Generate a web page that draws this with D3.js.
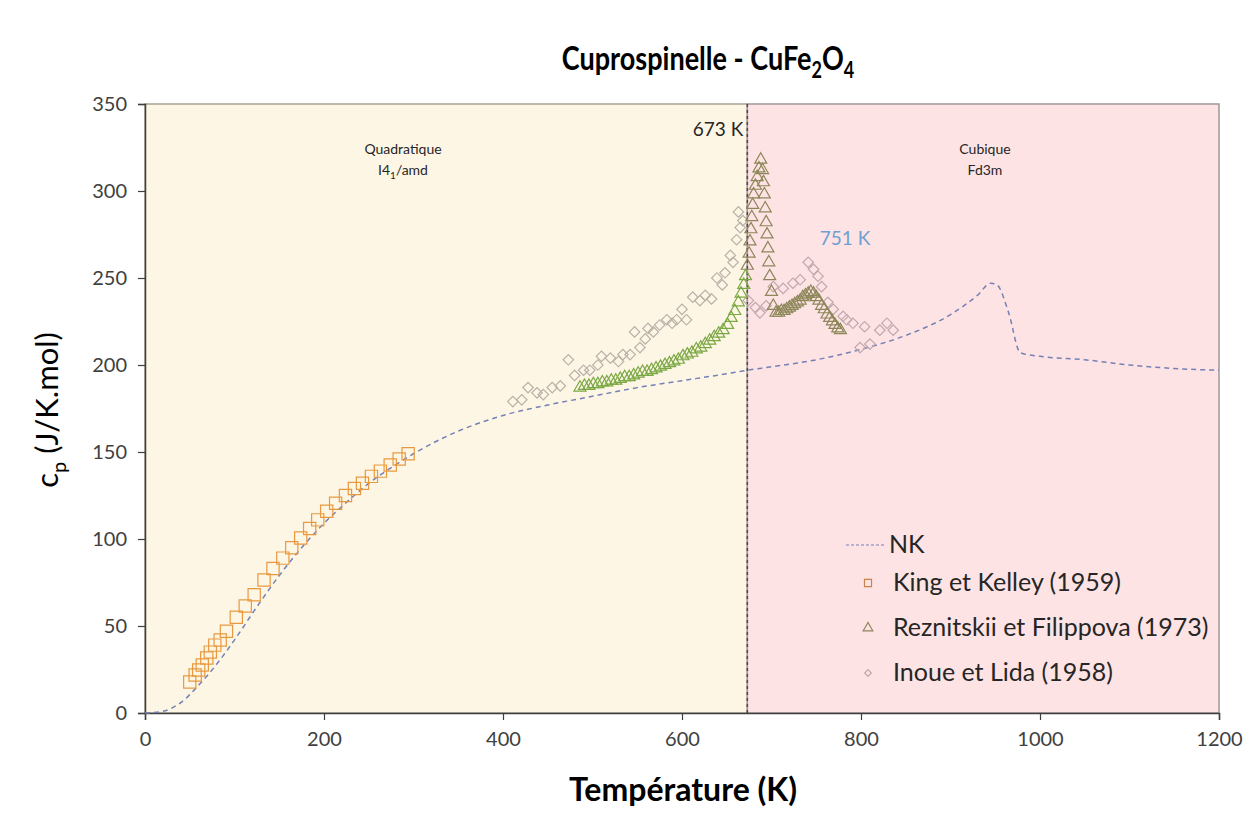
<!DOCTYPE html>
<html>
<head>
<meta charset="utf-8">
<script src="https://cdnjs.cloudflare.com/ajax/libs/d3/7.8.5/d3.min.js"></script>
<style>
  body { margin: 0; background: #fff; }
  text { font-family: Lato, "Open Sans", sans-serif; }
</style>
</head>
<body>
<div id="chart"></div>
<script>
var width = 1247,
    height = 821;
var margin = {top: 104, right: 28, bottom: 108, left: 145};

// NK model curve
var nkT  = [0, 20, 40, 60, 80, 100, 125, 150, 175, 200, 225, 250, 275, 300, 350, 400, 450, 500, 550, 600, 650, 673, 700, 750, 800, 850, 900, 930, 945, 952, 965, 978, 1000, 1050, 1100, 1150, 1200];
var nkCp = [0, 1, 6, 16, 28, 42, 61, 79, 95, 109, 121, 132, 141, 149, 162, 171, 177, 182, 187, 191, 195, 197, 199, 203, 209, 217, 229, 240, 247, 246, 230, 207, 205, 203, 200, 198, 197];

// King et Kelley (1959)
var kkT  = [50, 56, 60, 64, 69, 73, 78, 84, 91, 102, 112, 122, 133, 143, 154, 164, 174, 184, 193, 203, 213, 224, 234, 243, 253, 263, 274, 284, 294];
var kkCp = [17.8, 21.8, 24.7, 27.6, 31.6, 35, 39, 42, 47, 55, 61.5, 68, 76.4, 83, 89, 95, 100.6, 106, 111, 116, 120.6, 125, 129, 132, 136, 139, 142.5, 146, 149];

// Reznitskii et Filippova (1973)
var rfT  = [486, 491, 496, 501, 506, 511, 516, 521, 526, 531, 536, 541, 546, 551, 556, 561, 566, 571, 576, 581, 586, 591, 596, 601, 606, 611, 616, 621, 626, 631, 636, 641, 646, 651, 655, 659, 663, 666, 669, 671, 673, 675, 676, 677, 678, 679, 680, 682, 684, 686, 688, 690, 691, 692, 693, 694, 695, 696, 697, 698, 700, 702, 705, 708, 711, 714, 717, 720, 723, 726, 729, 732, 735, 738, 741, 744, 747, 750, 753, 756, 759, 762, 765, 768, 771, 774, 777];
var rfCp = [187, 188, 188, 189, 189, 190, 190, 191, 191, 192, 193, 193, 194, 195, 196, 196, 197, 198, 199, 200, 201, 202, 203, 205, 206, 207, 209, 210, 212, 214, 216, 218, 220, 223, 227, 231, 236, 241, 246, 251, 257, 264, 271, 278, 285, 292, 298, 303, 308, 313, 318, 312, 305, 298, 290, 282, 275, 267, 259, 251, 242, 234, 230, 230, 231, 231, 232, 233, 234, 235, 236, 237, 239, 240, 241, 242, 241, 239, 237, 234, 232, 229, 227, 225, 223, 221, 220];

// Inoue et Lida (1958)
var ilT  = [411, 421, 428, 438, 445, 455, 464, 473, 480, 490, 497, 506, 510, 520, 529, 534, 542, 547, 553, 559, 562, 568, 575, 583, 589, 594, 600, 605, 612, 620, 626, 633, 639, 645, 648, 654, 657, 661, 663, 665, 668, 674, 682, 687, 694, 702, 713, 724, 732, 741, 747, 752, 756, 763, 769, 780, 784, 791, 799, 804, 810, 821, 829, 836];
var ilCp = [179, 180, 187, 184, 183, 187, 188, 203, 194, 197, 197, 200, 205, 204, 202, 206, 206, 219, 210, 215, 221, 219, 223, 226, 224, 226, 232, 226, 239, 237, 240, 238, 250, 246, 253, 263, 259, 272, 288, 279, 283, 237, 233, 230, 234, 245, 244, 247, 249, 259, 255, 251, 245, 236, 232, 228, 226, 224, 210, 222, 212, 220, 224, 220];

var xTicks = [0, 200, 400, 600, 800, 1000, 1200];
var yTicks = [0, 50, 100, 150, 200, 250, 300, 350];
var transitionT = 673;
var legendNames = ["NK", "King et Kelley (1959)", "Reznitskii et Filippova (1973)", "Inoue et Lida (1958)"];

var svg = d3.select("#chart").append("svg")
    .attr("width", width)
    .attr("height", height);

var x = d3.scaleLinear().domain([0, 1200]).range([margin.left, width - margin.right]);
var y = d3.scaleLinear().domain([0, 350]).range([height - margin.bottom, margin.top]);

// background zones
svg.append("rect")
    .attr("x", x(0)).attr("y", y(350))
    .attr("width", x(transitionT) - x(0)).attr("height", y(0) - y(350))
    .attr("fill", "#fef6e5").attr("stroke", "#a9a397").attr("stroke-width", 1.5);
svg.append("rect")
    .attr("x", x(transitionT)).attr("y", y(350))
    .attr("width", x(1200) - x(transitionT)).attr("height", y(0) - y(350))
    .attr("fill", "#fde3e4").attr("stroke", "#a0979a").attr("stroke-width", 1.5);

// vertical transition line
svg.append("line")
    .attr("x1", x(transitionT)).attr("x2", x(transitionT))
    .attr("y1", y(350)).attr("y2", y(0))
    .attr("stroke", "#4a4a4a").attr("stroke-width", 1.5)
    .attr("stroke-dasharray", "3,3");

// axes
var xAxis = svg.append("g")
    .attr("transform", "translate(0," + y(0) + ")")
    .call(d3.axisBottom(x).tickValues(xTicks).tickSize(7).tickPadding(12).tickFormat(d3.format("d")));
var yAxis = svg.append("g")
    .attr("transform", "translate(" + x(0) + ",0)")
    .call(d3.axisLeft(y).tickValues(yTicks).tickSize(7).tickPadding(11).tickFormat(d3.format("d")));
[xAxis, yAxis].forEach(function(a) {
    a.select(".domain").attr("stroke", "#3f3f3f").attr("stroke-width", 1.5);
    a.selectAll(".tick line").attr("stroke", "#3f3f3f").attr("stroke-width", 1.2);
    a.selectAll(".tick text").attr("fill", "#404040").style("font-size", "20px")
        .style("font-family", "Lato, sans-serif");
});

// NK line
var nkData = nkT.map(function(t, i) { return [t, nkCp[i]]; });
svg.append("path")
    .datum(nkData)
    .attr("d", d3.line().curve(d3.curveMonotoneX)
        .x(function(d) { return x(d[0]); })
        .y(function(d) { return y(d[1]); }))
    .attr("fill", "none")
    .attr("stroke", "#7580b5")
    .attr("stroke-width", 1.5)
    .attr("stroke-dasharray", "5,4");

// King et Kelley squares
svg.append("g").selectAll("path")
    .data(kkT.map(function(t, i) { return [t, kkCp[i]]; }))
    .enter().append("path")
    .attr("d", d3.symbol().type(d3.symbolSquare).size(150))
    .attr("transform", function(d) { return "translate(" + x(d[0]) + "," + y(d[1]) + ")"; })
    .attr("fill", "none")
    .attr("stroke", "#e8993f")
    .attr("stroke-width", 1.2);

// Inoue et Lida diamonds
svg.append("g").selectAll("path")
    .data(ilT.map(function(t, i) { return [t, ilCp[i]]; }))
    .enter().append("path")
    .attr("d", d3.symbol().type(d3.symbolSquare).size(55))
    .attr("transform", function(d) { return "translate(" + x(d[0]) + "," + y(d[1]) + ") rotate(45)"; })
    .attr("fill", "none")
    .attr("stroke", function(d) { return d[0] < transitionT ? "#b8b1a8" : "#c2a7ae"; })
    .attr("stroke-width", 1.2);

// Reznitskii triangles
svg.append("g").selectAll("path")
    .data(rfT.map(function(t, i) { return [t, rfCp[i]]; }))
    .enter().append("path")
    .attr("d", d3.symbol().type(d3.symbolTriangle).size(62))
    .attr("transform", function(d) { return "translate(" + x(d[0]) + "," + y(d[1]) + ")"; })
    .attr("fill", "none")
    .attr("stroke", function(d) { return d[0] < transitionT ? "#7aa843" : "#8d8659"; })
    .attr("stroke-width", 1.2);

// annotations
svg.append("text").attr("x", x(transitionT) - 4).attr("y", 136)
    .attr("text-anchor", "end").style("font-size", "19px").attr("fill", "#262626").text("673 K");
svg.append("text").attr("x", x(754)).attr("y", 245)
    .style("font-size", "19px").attr("fill", "#6d9fd1").text("751 K");

var quad = svg.append("text").attr("x", 403).attr("y", 154)
    .attr("text-anchor", "middle").style("font-size", "14px").attr("fill", "#262626");
quad.append("tspan").attr("x", 403).text("Quadratique");
var q2 = svg.append("text").attr("x", 403).attr("y", 175)
    .attr("text-anchor", "middle").style("font-size", "14px").attr("fill", "#262626");
q2.append("tspan").text("I4");
q2.append("tspan").attr("dy", 4).style("font-size", "10px").text("1");
q2.append("tspan").attr("dy", -4).text("/amd");

svg.append("text").attr("x", 985).attr("y", 154)
    .attr("text-anchor", "middle").style("font-size", "14px").attr("fill", "#262626").text("Cubique");
svg.append("text").attr("x", 985).attr("y", 175)
    .attr("text-anchor", "middle").style("font-size", "14px").attr("fill", "#262626").text("Fd3m");

// title (condensed look)
var title = svg.append("text")
    .attr("transform", "translate(708,70) scale(0.82,1)")
    .attr("text-anchor", "middle").style("font-size", "33px").style("font-weight", "bold").attr("fill", "#000");
title.append("tspan").text("Cuprospinelle - CuFe");
title.append("tspan").attr("dy", 8).style("font-size", "22px").text("2");
title.append("tspan").attr("dy", -8).text("O");
title.append("tspan").attr("dy", 8).style("font-size", "22px").text("4");

// axis titles
svg.append("text").attr("x", 683).attr("y", 801)
    .attr("text-anchor", "middle").style("font-size", "32px").style("font-weight", "bold").attr("fill", "#000")
    .text("Température (K)");
var ylab = svg.append("text")
    .attr("transform", "translate(58,410) rotate(-90)")
    .attr("text-anchor", "middle").style("font-size", "31px").attr("fill", "#000");
ylab.append("tspan").text("c");
ylab.append("tspan").attr("dy", 8).style("font-size", "20px").text("p");
ylab.append("tspan").attr("dy", -8).text(" (J/K.mol)");

// legend
var legendY = [553, 591, 636, 681];
var lg = svg.append("g");
lg.append("line").attr("x1", 846).attr("x2", 884).attr("y1", legendY[0] - 8).attr("y2", legendY[0] - 8)
    .attr("stroke", "#7580b5").attr("stroke-width", 1.2).attr("stroke-dasharray", "3,2");
lg.append("path").attr("d", d3.symbol().type(d3.symbolSquare).size(50))
    .attr("transform", "translate(868," + (legendY[1] - 8) + ")")
    .attr("fill", "none").attr("stroke", "#c9824a").attr("stroke-width", 1.2);
lg.append("path").attr("d", d3.symbol().type(d3.symbolTriangle).size(40))
    .attr("transform", "translate(868," + (legendY[2] - 8) + ")")
    .attr("fill", "none").attr("stroke", "#8d8659").attr("stroke-width", 1.2);
lg.append("path").attr("d", d3.symbol().type(d3.symbolSquare).size(22))
    .attr("transform", "translate(868," + (legendY[3] - 8) + ") rotate(45)")
    .attr("fill", "none").attr("stroke", "#c2a7ae").attr("stroke-width", 1.2);
lg.selectAll("text.leg").data(legendNames).enter().append("text")
    .attr("class", "leg")
    .attr("x", function(d, i) { return i === 0 ? 889 : 893; })
    .attr("y", function(d, i) { return legendY[i]; })
    .style("font-size", "25px").attr("fill", "#262626")
    .text(function(d) { return d; });
</script>
</body>
</html>
